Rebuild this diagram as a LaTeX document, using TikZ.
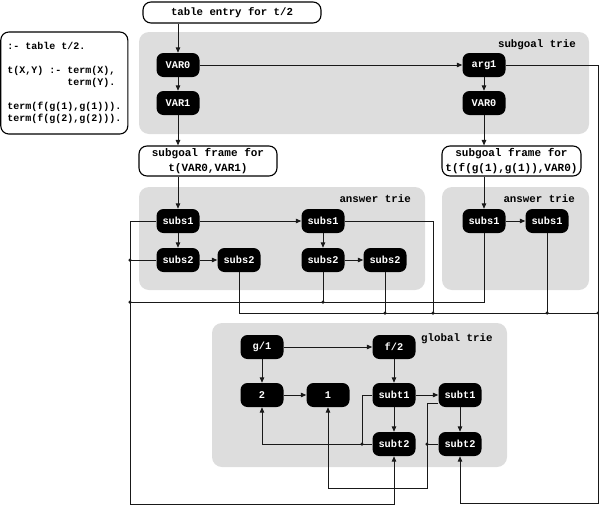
\documentclass[tikz,border=0pt]{standalone}
\usepackage{fontspec}
\setmonofont{Liberation Mono}
\usetikzlibrary{arrows.meta}
\definecolor{trie}{RGB}{221,221,221}
\definecolor{ln}{RGB}{25,25,25}
\begin{document}
\begin{tikzpicture}[x=1pt,y=-1pt,
  bnode/.style={fill=black, text=white, rounded corners=7pt, minimum width=43pt, minimum height=24pt, inner sep=0pt, font=\ttfamily\bfseries\fontsize{10.3}{12}\selectfont},
  wbox/.style={draw=black, fill=white, line width=1.1pt, rounded corners=8pt, inner sep=0pt, align=center, font=\ttfamily\bfseries\fontsize{11}{14.5}\selectfont},
  region/.style={fill=trie, rounded corners=10pt},
  lbl/.style={font=\ttfamily\bfseries\fontsize{10.8}{12}\selectfont, inner sep=0pt},
  wire/.style={draw=ln, line width=1pt},
  arr/.style={wire, -{Triangle[length=5.5pt,width=4.5pt]}},
  dot/.style={circle, fill=ln, inner sep=0pt, minimum size=3.5pt}
]
\useasboundingbox (0,0) rectangle (599,509);

% grey regions
\fill[region] (139,32) rectangle (589,134);
\fill[region] (139,187) rectangle (425,290);
\fill[region] (442,187) rectangle (589,290);
\fill[region] (212,323) rectangle (507,467);

% labels
\node[lbl, anchor=mid east] (lsg) at (576,45) {subgoal trie};
\node[lbl, anchor=mid east] (la1) at (411,200) {answer trie};
\node[lbl, anchor=mid east] (la2) at (575,200) {answer trie};
\node[lbl, anchor=mid west] (lgt) at (421,339) {global trie};

% white boxes
\node[wbox, minimum width=127pt, minimum height=102pt, align=left,
      font=\ttfamily\bfseries\fontsize{10}{12}\selectfont] (code) at (64.3,83)
  {:- table t/2.\\[12pt]t(X,Y) :- term(X),\\\phantom{t(X,Y) :- }term(Y).\\[12pt]term(f(g(1),g(1))).\\term(f(g(2),g(2))).};
\node[wbox, minimum width=178pt, minimum height=21pt, font=\ttfamily\bfseries\fontsize{10.7}{12}\selectfont] (tab) at (232,12.5) {table entry for t/2};
\node[wbox, minimum width=138pt, minimum height=30pt] (fr1) at (208,161) {subgoal frame for\\t(VAR0,VAR1)};
\node[wbox, minimum width=139pt, minimum height=30pt] (fr2) at (511.5,161) {subgoal frame for\\t(f(g(1),g(1)),VAR0)};

% subgoal trie
\node[bnode] (VAR0) at (178,65) {VAR0};
\node[bnode] (VAR1) at (178,103) {VAR1};
\node[bnode] (arg1) at (484,65) {arg1};
\node[bnode] (VAR0r) at (484,103) {VAR0};

% answer tries
\node[bnode] (sa1) at (178,221) {subs1};
\node[bnode] (sb2) at (178,260) {subs2};
\node[bnode] (sc2) at (239,260) {subs2};
\node[bnode] (sd1) at (323,221) {subs1};
\node[bnode] (se2) at (323,260) {subs2};
\node[bnode] (sf2) at (385,260) {subs2};
\node[bnode] (sg1) at (484,221) {subs1};
\node[bnode] (sh1) at (547,221) {subs1};

% global trie
\node[bnode] (g1) at (262,347) {g/1};
\node[bnode] (f2) at (394,347) {f/2};
\node[bnode] (n2) at (262,395) {2};
\node[bnode] (n1) at (328,395) {1};
\node[bnode] (tA) at (394,395) {subt1};
\node[bnode] (tB) at (394,444) {subt2};
\node[bnode] (tC) at (460,395) {subt1};
\node[bnode] (tD) at (460,444) {subt2};

% tree edges
\draw[arr] (tab.south -| VAR0) -- (VAR0.north);
\draw[arr] (VAR0) -- (VAR1);
\draw[arr] (VAR0) -- (arg1);
\draw[arr] (arg1) -- (VAR0r);
\draw[arr] (VAR1.south) -- (VAR1.south |- fr1.north);
\draw[arr] (fr1.south -| sa1) -- (sa1.north);
\draw[arr] (VAR0r.south) -- (VAR0r.south |- fr2.north);
\draw[arr] (fr2.south -| sg1) -- (sg1.north);
\draw[arr] (sa1) -- (sd1);
\draw[arr] (sa1) -- (sb2);
\draw[arr] (sb2) -- (sc2);
\draw[arr] (sd1) -- (se2);
\draw[arr] (se2) -- (sf2);
\draw[arr] (sg1) -- (sh1);
\draw[arr] (g1) -- (f2);
\draw[arr] (g1) -- (n2);
\draw[arr] (n2) -- (n1);
\draw[arr] (f2) -- (tA);
\draw[arr] (tA) -- (tB);
\draw[arr] (tA) -- (tC);
\draw[arr] (tC) -- (tD);

% left bus to subt2 (left)
\coordinate (cL) at (130,504);
\coordinate (jA) at (130,302);
\draw[arr] (sa1.west) -| (cL) -| (tB.south);
\draw[wire] (sb2.west) -- (sb2.west -| cL) node[dot] (d1) {};
\draw[wire] (sg1.south) |- (jA) node[dot] (d2) {};
\draw[wire] (se2.south) -- (se2.south |- jA) node[dot] (d3) {};

% right bus to subt2 (right)
\coordinate (cR) at (598,503);
\coordinate (jR) at (598,313);
\coordinate (jD) at (433,313);
\draw[arr] (arg1.east) -| (cR) -| (tD.south);
\draw[wire] (sc2.south) |- (jR);
\node[dot] (d4) at (jR) {};
\draw[wire] (sf2.south) -- (sf2.south |- jR) node[dot] (d5) {};
\draw[wire] (sd1.east) -| (jD) node[dot] (d6) {};
\draw[wire] (sh1.south) -- (sh1.south |- jR) node[dot] (d7) {};

% global trie back links
\coordinate (jG) at (362,444);
\coordinate (cC) at (427,488);
\draw[arr] (tB.west) -| (n2.south);
\draw[wire] (tA.west) -| (jG) node[dot] (d8) {};
\draw[arr] ([yshift=-8pt]tC.west) -| (cC) -| (n1.south);
\draw[wire] (tD.west) -- (tD.west -| cC) node[dot] (d9) {};
\end{tikzpicture}
\end{document}
